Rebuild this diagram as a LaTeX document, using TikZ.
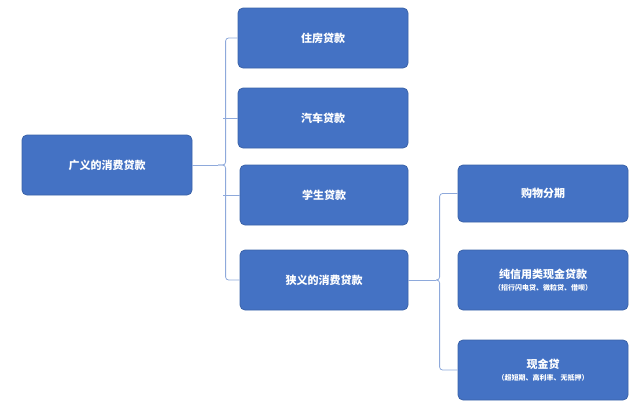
\documentclass[tikz,border=0pt]{standalone}
\usepackage{fontspec}
\newfontfamily\cjk{Noto Sans CJK SC}
\definecolor{boxfill}{HTML}{4472C4}
\definecolor{boxline}{HTML}{3A62A8}
\definecolor{conn}{HTML}{8EA9DB}
\tikzset{
 bx/.style={draw=boxline,line width=0.8pt,fill=boxfill,rounded corners=5pt,text=white,font=\cjk\bfseries\fontsize{11}{13}\selectfont,align=center,inner sep=0pt},
 cn/.style={draw=conn,line width=0.8pt,rounded corners=3pt}
}
\begin{document}
\begin{tikzpicture}[x=1pt,y=-1pt]
\useasboundingbox (0,0) rectangle (640,415);
\node[bx,minimum width=170pt,minimum height=60pt] (a) at (107,165) {广义的消费贷款};
\node[bx,minimum width=170pt,minimum height=60pt] (b1) at (323,38) {住房贷款};
\node[bx,minimum width=170pt,minimum height=60pt] (b2) at (323,118) {汽车贷款};
\node[bx,minimum width=168pt,minimum height=60pt] (b3) at (324,195) {学生贷款};
\node[bx,minimum width=168pt,minimum height=60pt] (b4) at (324,280) {狭义的消费贷款};
\node[bx,minimum width=170pt,minimum height=57pt] (c1) at (543,193.5) {购物分期};
\node[bx,minimum width=170pt,minimum height=60pt] (c2) at (543,280) {纯信用类现金贷款\\[-1pt]{\fontsize{7}{8}\selectfont （招行闪电贷、微粒贷、借呗）}};
\node[bx,minimum width=170pt,minimum height=60pt] (c3) at (543,370) {现金贷\\[-1pt]{\fontsize{7}{8}\selectfont （超短期、高利率、无抵押）}};
\coordinate (j1) at (218,165);
\coordinate (j2) at (436,280);
\draw[cn] (a.east) -- (j1);
\draw[cn] (b1.west) -- ++(-12,0) |- (j1);
\draw[cn] (b4.west) -- ++(-14,0) |- (j1);
\draw[cn] (b2.west) -- ++(-15,0);
\draw[cn] (b3.west) -- ++(-17,0);
\draw[cn] (b4.east) -- (j2);
\draw[cn] (c1.west) -- ++(-18,0) |- (j2);
\draw[cn] (c3.west) -- ++(-18,0) |- (j2);
\end{tikzpicture}
\end{document}
